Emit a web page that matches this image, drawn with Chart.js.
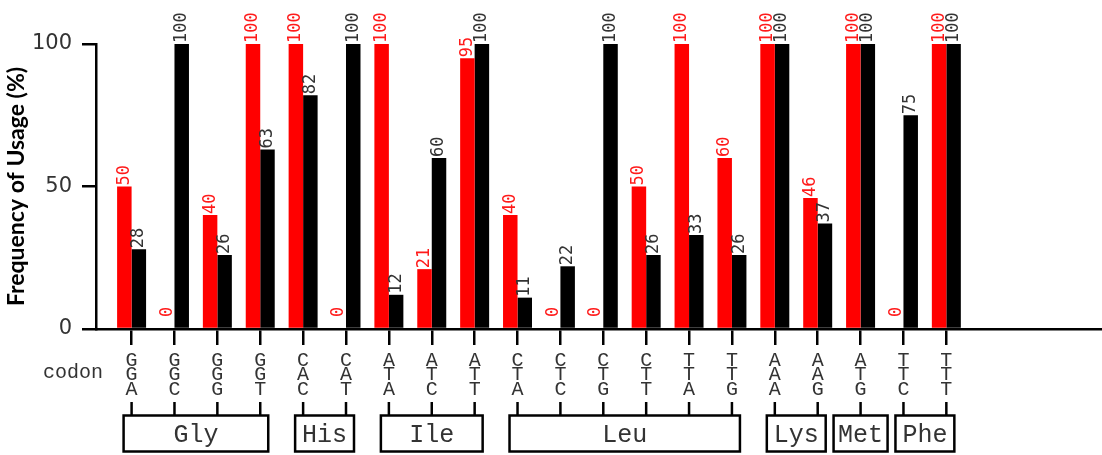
<!DOCTYPE html>
<html>
<head>
<meta charset="utf-8">
<script src="https://cdn.jsdelivr.net/npm/chart.js@4.4.1/dist/chart.umd.min.js"></script>
<style>
  html, body { margin: 0; padding: 0; background: #fff; }
  #wrap { width: 1102px; height: 455px; }
</style>
</head>
<body>
<div id="wrap"><canvas id="usage" width="1102" height="455"></canvas></div>
<script>
// Codons on the x axis, in drawing order
const CODONS = ['GGA','GGC','GGG','GGT','CAC','CAT','ATA','ATC','ATT','CTA',
                'CTC','CTG','CTT','TTA','TTG','AAA','AAG','ATG','TTC','TTT'];

// Usage frequency (%) per codon
const RED_VALUES   = [50, 0, 40, 100, 100, 0, 100, 21, 95, 40, 0, 0, 50, 100, 60, 100, 46, 100, 0, 100];
const BLACK_VALUES = [28, 100, 26, 63, 82, 100, 12, 60, 100, 11, 22, 100, 26, 33, 26, 100, 37, 100, 75, 100];

// Amino acids and the first/last codon index each one covers
const AMINO_ACIDS = ['Gly', 'His', 'Ile', 'Leu', 'Lys', 'Met', 'Phe'];
const AMINO_SPANS = [[0, 3], [4, 5], [6, 8], [9, 14], [15, 16], [17, 17], [18, 19]];

// Y axis ticks
const Y_TICKS = [0, 50, 100];

const MONO = '"Courier New", Courier, "Liberation Mono", monospace';
const LABEL_COLORS = ['#ff1a1a', '#333333'];

// Rotated value labels above each bar
const valueLabels = {
  id: 'valueLabels',
  afterDatasetsDraw(chart) {
    const ctx = chart.ctx;
    chart.data.datasets.forEach((ds, di) => {
      const meta = chart.getDatasetMeta(di);
      meta.data.forEach((bar, i) => {
        const v = ds.data[i].y;
        const gap = v === 0 ? 12 : 1;
        ctx.save();
        ctx.translate(bar.x, bar.y - gap);
        ctx.rotate(-Math.PI / 2);
        ctx.font = '17px "DejaVu Sans Mono"';
        ctx.fillStyle = LABEL_COLORS[di];
        ctx.textAlign = 'left';
        ctx.textBaseline = 'middle';
        ctx.fillText(String(v), 0, 0);
        ctx.restore();
      });
    });
  }
};

// "codon" caption, connector ticks and amino acid boxes under the axis
const aminoBoxes = {
  id: 'aminoBoxes',
  afterDraw(chart) {
    const ctx = chart.ctx;
    const xs = chart.scales.x;
    ctx.save();
    ctx.strokeStyle = '#000';
    ctx.lineWidth = 2.5;

    ctx.font = '20px ' + MONO;
    ctx.fillStyle = '#333';
    ctx.textAlign = 'right';
    ctx.textBaseline = 'middle';
    ctx.fillText('codon', 103, 373);

    CODONS.forEach((c, i) => {
      const px = xs.getPixelForValue(i);
      ctx.beginPath();
      ctx.moveTo(px, 402);
      ctx.lineTo(px, 416);
      ctx.stroke();
    });

    ctx.font = '25px ' + MONO;
    ctx.textAlign = 'center';
    AMINO_SPANS.forEach(([a, b], k) => {
      const pa = xs.getPixelForValue(a);
      const pb = xs.getPixelForValue(b);
      const mid = (pa + pb) / 2;
      const half = Math.max((pb - pa) / 2 + 8, 27);
      ctx.strokeRect(mid - half, 415.5, half * 2, 36);
      ctx.fillText(AMINO_ACIDS[k], mid, 435);
    });
    ctx.restore();
  }
};

new Chart(document.getElementById('usage'), {
  type: 'bar',
  data: {
    datasets: [
      {
        label: 'Set A',
        data: RED_VALUES.map((v, i) => ({ x: i, y: v })),
        backgroundColor: '#ff0000',
        categoryPercentage: 0.676,
        barPercentage: 1.0
      },
      {
        label: 'Set B',
        data: BLACK_VALUES.map((v, i) => ({ x: i, y: v })),
        backgroundColor: '#000000',
        categoryPercentage: 0.676,
        barPercentage: 1.0
      }
    ]
  },
  options: {
    responsive: false,
    animation: false,
    devicePixelRatio: 1,
    layout: { padding: { top: 44, left: 0, right: 0, bottom: 0 } },
    plugins: { legend: { display: false }, tooltip: { enabled: false } },
    scales: {
      x: {
        type: 'linear',
        offset: false,
        min: -0.83,
        max: 22.63,
        afterBuildTicks: s => { s.ticks = CODONS.map((_, i) => ({ value: i })); },
        afterFit: s => { s.height = 126; },
        grid: { offset: false, drawOnChartArea: false, drawTicks: true, tickLength: 16, color: '#000', lineWidth: 2.5 },
        border: { display: true, color: '#000', width: 2.5, z: 1 },
        ticks: {
          autoSkip: false,
          maxRotation: 0,
          minRotation: 0,
          padding: 8,
          color: '#333',
          font: { family: MONO, size: 20, lineHeight: '14.5px' },
          callback: v => (CODONS[v] ? CODONS[v].split('') : '')
        }
      },
      y: {
        min: 0,
        max: 100,
        afterBuildTicks: s => { s.ticks = Y_TICKS.map(v => ({ value: v })); },
        afterFit: s => { s.width = 96; },
        grid: { drawOnChartArea: false, drawTicks: true, tickLength: 14, color: '#000', lineWidth: 2.5 },
        border: { display: true, color: '#000', width: 2.5, z: 1 },
        ticks: { padding: 10, color: '#333', font: { family: 'DejaVu Sans', size: 21 } },
        title: {
          display: true,
          text: 'Frequency of Usage (%)',
          color: '#000',
          font: { family: 'Lato', weight: 'bold', size: 23 },
          padding: { top: 3.2, bottom: 0 }
        }
      }
    }
  },
  plugins: [valueLabels, aminoBoxes]
});
</script>
</body>
</html>
